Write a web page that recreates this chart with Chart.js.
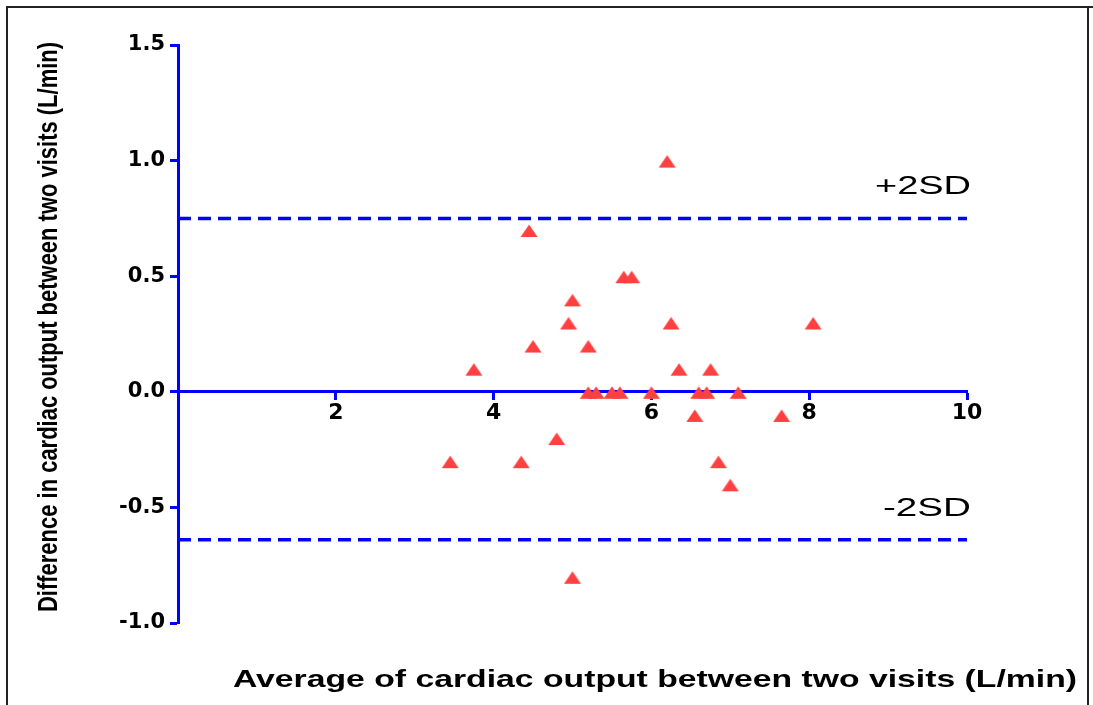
<!DOCTYPE html>
<html><head><meta charset="utf-8">
<script src="https://cdn.jsdelivr.net/npm/chart.js@4/dist/chart.umd.min.js"></script>
<style>html,body{margin:0;padding:0;background:#fff}canvas{display:block}</style>
</head><body>
<canvas id="c" width="1093" height="705"></canvas>
<script>
// ---- data ----
const avgValues  = [6.2, 4.45, 5.65, 5.75, 5.0, 4.95, 6.25, 8.05, 4.5, 5.2, 3.75, 6.35, 6.75, 5.2, 5.3, 5.5, 5.6, 6.0, 6.6, 6.7, 7.1, 6.55, 7.65, 4.8, 3.45, 4.35, 6.85, 7.0, 5.0];
const diffValues = [1.0, 0.7, 0.5, 0.5, 0.4, 0.3, 0.3, 0.3, 0.2, 0.2, 0.1, 0.1, 0.1, 0, 0, 0, 0, 0, 0, 0, 0, -0.1, -0.1, -0.2, -0.3, -0.3, -0.3, -0.4, -0.8];
const upperLimit = 0.75;
const lowerLimit = -0.64;
const limitLabels = ['+2SD', '-2SD'];
const xTicks = [2, 4, 6, 8, 10];
const yTicks = [-1.0, -0.5, 0.0, 0.5, 1.0, 1.5];
const xTitle = 'Average of cardiac output between two visits (L/min)';
const yTitle = 'Difference in cardiac output between two visits (L/min)';

const BLUE = '#0000ff';
const RED = '#ff4040';

const points = avgValues.map((x, i) => ({x: x, y: diffValues[i]}));
const xMin = 0, xMax = 10;

// triangle marker (slightly flattened, as in the reference)
const tri = document.createElement('canvas');
tri.width = 18; tri.height = 16;
(function () {
  const g = tri.getContext('2d');
  g.fillStyle = RED;
  g.beginPath();
  g.moveTo(9, 2.5);
  g.lineTo(17.5, 15);
  g.lineTo(0.5, 15);
  g.closePath();
  g.fill();
})();

function fitText(ctx, text, width) {
  return width / ctx.measureText(text).width;
}

const textPlugin = {
  id: 'texts',
  beforeDraw(chart) {
    const ctx = chart.ctx;
    ctx.save();
    ctx.fillStyle = '#fff';
    ctx.fillRect(0, 0, chart.width, chart.height);
    ctx.restore();
  },
  afterDraw(chart) {
    const ctx = chart.ctx;
    const xs = chart.scales.x, ys = chart.scales.y;
    ctx.save();
    ctx.fillStyle = '#000';
    ctx.textBaseline = 'alphabetic';
    // x title
    ctx.font = 'bold 24px "Liberation Sans", Arial, sans-serif';
    ctx.textAlign = 'center';
    let s = fitText(ctx, xTitle, 844);
    ctx.save();
    ctx.translate(655, 687);
    ctx.scale(s, 1);
    ctx.fillText(xTitle, 0, 0);
    ctx.restore();
    // y title (condensed)
    ctx.font = 'bold 27px "Liberation Sans Narrow", "Liberation Sans", Arial, sans-serif';
    s = fitText(ctx, yTitle, 570);
    ctx.save();
    ctx.translate(57, 327);
    ctx.rotate(-Math.PI / 2);
    ctx.scale(s, 1);
    ctx.fillText(yTitle, 0, 0);
    ctx.restore();
    // limit labels
    ctx.font = '25px "Liberation Sans", Arial, sans-serif';
    ctx.textAlign = 'right';
    const rx = xs.getPixelForValue(xMax) + 4;
    const lims = [upperLimit, lowerLimit];
    const widths = [96, 88];
    lims.forEach((v, i) => {
      const sc = fitText(ctx, limitLabels[i], widths[i]);
      ctx.save();
      ctx.translate(rx, ys.getPixelForValue(v) - 24);
      ctx.scale(sc, 1);
      ctx.fillText(limitLabels[i], 0, 0);
      ctx.restore();
    });
    // frame
    ctx.strokeStyle = '#222';
    ctx.lineWidth = 2;
    ctx.beginPath();
    ctx.moveTo(7, 705); ctx.lineTo(7, 7); ctx.lineTo(1093, 7);
    ctx.moveTo(1088, 7); ctx.lineTo(1088, 705);
    ctx.stroke();
    ctx.restore();
  }
};

new Chart(document.getElementById('c'), {
  type: 'scatter',
  data: {
    datasets: [
      {
        label: 'points',
        data: points,
        pointStyle: tri,
        pointRadius: 9,
        pointHoverRadius: 9,
        backgroundColor: RED,
        borderColor: RED,
        borderWidth: 0,
        order: 0
      },
      {
        label: '+2SD',
        type: 'line',
        data: [{x: xMin, y: upperLimit}, {x: xMax, y: upperLimit}],
        borderColor: BLUE,
        borderWidth: 3.5,
        borderDash: [13, 7],
        pointRadius: 0,
        fill: false,
        order: 1
      },
      {
        label: '-2SD',
        type: 'line',
        data: [{x: xMin, y: lowerLimit}, {x: xMax, y: lowerLimit}],
        borderColor: BLUE,
        borderWidth: 3.5,
        borderDash: [13, 7],
        pointRadius: 0,
        fill: false,
        order: 1
      }
    ]
  },
  options: {
    responsive: false,
    animation: false,
    devicePixelRatio: 1,
    layout: { padding: { left: 0, right: 126, top: 45, bottom: 82 } },
    plugins: { legend: { display: false }, tooltip: { enabled: false }, title: { display: false } },
    scales: {
      x: {
        type: 'linear',
        position: { y: 0 },
        min: xMin, max: xMax,
        afterBuildTicks: sc => { sc.ticks = xTicks.map(v => ({value: v})); },
        grid: { display: true, drawOnChartArea: false, drawTicks: true, tickLength: 7, tickWidth: 3, tickColor: BLUE },
        border: { display: true, color: BLUE, width: 3 },
        ticks: { color: '#000', font: { family: '"DejaVu Sans", sans-serif', weight: 'bold', size: 22 }, padding: 1, maxRotation: 0, autoSkip: false }
      },
      y: {
        type: 'linear',
        position: 'left',
        min: -1, max: 1.5,
        afterBuildTicks: sc => { sc.ticks = yTicks.map(v => ({value: v})); },
        afterFit: sc => { sc.width = 178; },
        grid: { display: true, drawOnChartArea: false, drawTicks: true, tickLength: 8, tickWidth: 3, tickColor: BLUE },
        border: { display: true, color: BLUE, width: 3 },
        ticks: { color: '#000', font: { family: '"DejaVu Sans", sans-serif', weight: 'bold', size: 21 }, padding: 5, autoSkip: false, callback: v => Number(v).toFixed(1) }
      }
    }
  },
  plugins: [textPlugin]
});
</script>
</body></html>
